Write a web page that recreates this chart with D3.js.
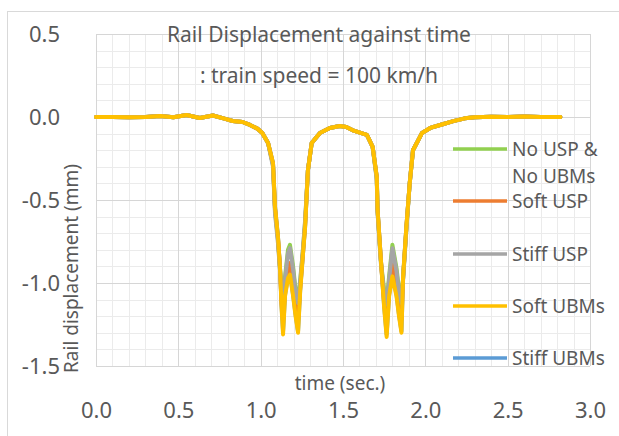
<!DOCTYPE html>
<html>
<head>
<meta charset="utf-8">
<script src="https://cdn.jsdelivr.net/npm/d3@7"></script>
<style>
  body { margin: 0; background: #fff; }
  text { font-family: "Noto Sans", "Open Sans", sans-serif; fill: #595959; }
</style>
</head>
<body>
<div id="chart"></div>
<script>
// time (sec.)
var times = [0.00,0.10,0.20,0.30,0.39,0.47,0.55,0.63,0.71,0.78,0.83,0.89,0.935,0.98,1.01,1.045,1.075,1.087,1.105,1.117,1.127,1.136,1.148,1.166,1.178,1.197,1.212,1.227,1.24,1.255,1.27,1.287,1.31,1.36,1.42,1.48,1.52,1.56,1.645,1.68,1.705,1.71,1.73,1.75,1.765,1.78,1.80,1.825,1.84,1.855,1.865,1.885,1.905,1.925,1.98,2.03,2.10,2.17,2.24,2.30,2.40,2.50,2.60,2.70,2.82];

// rail displacement (mm) per case
var noUspNoUbms = [0.000,0.000,-0.002,0.000,0.006,-0.002,0.012,-0.006,0.009,-0.010,-0.024,-0.030,-0.048,-0.070,-0.096,-0.157,-0.290,-0.56,-0.74,-0.91,-1.04,-1.10,-0.96,-0.80,-0.77,-0.90,-1.04,-1.10,-0.98,-0.82,-0.63,-0.32,-0.157,-0.096,-0.066,-0.054,-0.060,-0.080,-0.108,-0.18,-0.37,-0.57,-0.87,-1.04,-1.11,-0.96,-0.77,-0.91,-1.04,-1.10,-0.97,-0.67,-0.40,-0.20,-0.096,-0.066,-0.045,-0.025,-0.008,-0.002,0.002,0.000,0.003,0.000,0.000];
var softUsp    = [0.000,0.000,-0.002,0.000,0.006,-0.002,0.012,-0.006,0.009,-0.010,-0.024,-0.030,-0.048,-0.070,-0.096,-0.157,-0.285,-0.55,-0.73,-0.90,-1.12,-1.22,-1.04,-0.90,-0.88,-1.02,-1.14,-1.22,-1.03,-0.84,-0.65,-0.32,-0.157,-0.096,-0.066,-0.054,-0.060,-0.080,-0.108,-0.18,-0.36,-0.56,-0.86,-1.12,-1.23,-1.04,-0.89,-1.03,-1.14,-1.22,-0.97,-0.66,-0.40,-0.20,-0.096,-0.066,-0.045,-0.025,-0.008,-0.002,0.002,0.000,0.003,0.000,0.000];
var stiffUsp   = [0.000,0.000,-0.002,0.000,0.006,-0.002,0.012,-0.006,0.009,-0.010,-0.024,-0.030,-0.048,-0.070,-0.096,-0.157,-0.300,-0.58,-0.76,-0.92,-1.06,-1.12,-0.98,-0.82,-0.79,-0.92,-1.06,-1.12,-1.00,-0.82,-0.62,-0.32,-0.157,-0.096,-0.066,-0.054,-0.060,-0.080,-0.108,-0.18,-0.38,-0.58,-0.88,-1.06,-1.13,-0.98,-0.79,-0.93,-1.06,-1.12,-0.98,-0.68,-0.40,-0.20,-0.096,-0.066,-0.045,-0.025,-0.008,-0.002,0.002,0.000,0.003,0.000,0.000];
var softUbms   = [0.000,0.000,-0.002,0.000,0.006,-0.002,0.012,-0.006,0.009,-0.010,-0.024,-0.030,-0.048,-0.070,-0.096,-0.157,-0.277,-0.54,-0.72,-0.90,-1.15,-1.31,-1.08,-0.97,-0.95,-1.08,-1.20,-1.30,-1.05,-0.85,-0.66,-0.32,-0.157,-0.096,-0.066,-0.054,-0.060,-0.080,-0.108,-0.18,-0.36,-0.56,-0.86,-1.15,-1.325,-1.08,-0.96,-1.08,-1.20,-1.30,-0.96,-0.66,-0.40,-0.20,-0.096,-0.066,-0.045,-0.025,-0.008,-0.002,0.002,0.000,0.003,0.000,0.000];
var stiffUbms  = [0.000,0.000,-0.002,0.000,0.006,-0.002,0.012,-0.006,0.009,-0.010,-0.024,-0.030,-0.048,-0.070,-0.096,-0.157,-0.277,-0.54,-0.72,-0.90,-1.14,-1.29,-1.07,-0.96,-0.94,-1.07,-1.19,-1.29,-1.04,-0.85,-0.66,-0.32,-0.157,-0.096,-0.066,-0.054,-0.060,-0.080,-0.108,-0.18,-0.36,-0.56,-0.86,-1.14,-1.31,-1.07,-0.95,-1.07,-1.19,-1.29,-0.96,-0.66,-0.40,-0.20,-0.096,-0.066,-0.045,-0.025,-0.008,-0.002,0.002,0.000,0.003,0.000,0.000];

var legendNames = ["No USP &\nNo UBMs", "Soft USP", "Stiff USP", "Soft UBMs", "Stiff UBMs"];
var colors = ["#92d050", "#ed7d31", "#a5a5a5", "#ffc000", "#5b9bd5"];
var xTicks = [0, 0.5, 1, 1.5, 2, 2.5, 3];
var yTicks = [0.5, 0, -0.5, -1, -1.5];

var W = 619, H = 436;
var plot = {left: 96, right: 590, top: 34, bottom: 366};

var svg = d3.select("#chart").append("svg")
    .attr("width", W)
    .attr("height", H);

// outer chart frame
svg.append("rect")
    .attr("x", 7.5).attr("y", 11.5)
    .attr("width", 700).attr("height", 500)
    .attr("fill", "none")
    .attr("stroke", "#d9d9d9");

var x = d3.scaleLinear().domain([0, 3]).range([plot.left, plot.right]);
var y = d3.scaleLinear().domain([-1.5, 0.5]).range([plot.bottom, plot.top]);

// gridlines: minor every 0.1, major every 0.5
var minorX = d3.range(0, 31).map(function(i) { return i / 10; });
var minorY = d3.range(-15, 6).map(function(i) { return i / 10; });
var grid = svg.append("g");
grid.selectAll(".mx").data(minorX).enter().append("line")
    .attr("x1", function(d) { return Math.round(x(d)) + 0.5; })
    .attr("x2", function(d) { return Math.round(x(d)) + 0.5; })
    .attr("y1", plot.top).attr("y2", plot.bottom)
    .attr("stroke", "#ebebeb");
grid.selectAll(".my").data(minorY).enter().append("line")
    .attr("y1", function(d) { return Math.round(y(d)) + 0.5; })
    .attr("y2", function(d) { return Math.round(y(d)) + 0.5; })
    .attr("x1", plot.left).attr("x2", plot.right)
    .attr("stroke", "#ebebeb");
grid.selectAll(".Mx").data(xTicks).enter().append("line")
    .attr("x1", function(d) { return Math.round(x(d)) + 0.5; })
    .attr("x2", function(d) { return Math.round(x(d)) + 0.5; })
    .attr("y1", plot.top).attr("y2", plot.bottom)
    .attr("stroke", "#d6d6d6");
grid.selectAll(".My").data(yTicks).enter().append("line")
    .attr("y1", function(d) { return Math.round(y(d)) + 0.5; })
    .attr("y2", function(d) { return Math.round(y(d)) + 0.5; })
    .attr("x1", plot.left).attr("x2", plot.right)
    .attr("stroke", "#d6d6d6");

// axes (labels only), hyphen minus like the original
var fmt = function(d) { return d3.format(".1f")(d).replace("\u2212", "-"); };
var xAxis = svg.append("g")
    .attr("transform", "translate(0,408)")
    .call(d3.axisBottom(x).tickValues(xTicks).tickFormat(fmt).tickSize(0));
var yAxis = svg.append("g")
    .attr("transform", "translate(" + (plot.left - 36) + ",0)")
    .call(d3.axisLeft(y).tickValues(yTicks).tickFormat(fmt).tickSize(0));
[xAxis, yAxis].forEach(function(a) {
  a.select(".domain").remove();
  a.selectAll("text")
      .style("font-family", "'Noto Sans', sans-serif")
      .style("font-size", "22px")
      .attr("fill", "#595959");
});
xAxis.selectAll("text").attr("dy", "0.3em");
yAxis.selectAll("text").attr("x", 0).attr("dy", "0.35em");

// series (blue hidden underneath, yellow on top)
var series = [
  {name: "Stiff UBMs", values: stiffUbms, color: colors[4]},
  {name: "No USP", values: noUspNoUbms, color: colors[0]},
  {name: "Soft USP", values: softUsp, color: colors[1]},
  {name: "Stiff USP", values: stiffUsp, color: colors[2]},
  {name: "Soft UBMs", values: softUbms, color: colors[3]}
];

var line = d3.line()
    .x(function(d, i) { return x(times[i]); })
    .y(function(d) { return y(d); });

svg.append("g").selectAll("path")
    .data(series)
  .enter().append("path")
    .attr("d", function(s) { return line(s.values); })
    .attr("fill", "none")
    .attr("stroke", function(s) { return s.color; })
    .attr("stroke-width", 4)
    .attr("stroke-linejoin", "round")
    .attr("stroke-linecap", "round");

// title
svg.append("text")
    .attr("x", 319).attr("y", 42)
    .attr("text-anchor", "middle")
    .style("font-size", "21px")
    .text("Rail Displacement against time");
svg.append("text")
    .attr("x", 319).attr("y", 83)
    .attr("text-anchor", "middle")
    .style("font-size", "21px")
    .text(": train speed = 100 km/h");

// axis titles
svg.append("text")
    .attr("x", 340).attr("y", 390)
    .attr("text-anchor", "middle")
    .style("font-size", "19px")
    .text("time (sec.)");
svg.append("text")
    .attr("transform", "translate(78,373) rotate(-90)")
    .attr("text-anchor", "start")
    .style("font-size", "19px")
    .text("Rail displacement (mm)");

// legend
var legendY = [149, 201, 254, 306, 358];
var legend = svg.append("g");
legendNames.forEach(function(name, i) {
  legend.append("line")
      .attr("x1", 453).attr("x2", 507)
      .attr("y1", legendY[i]).attr("y2", legendY[i])
      .attr("stroke", colors[i])
      .attr("stroke-width", 3.5);
  var t = legend.append("text")
      .attr("x", 512).attr("y", legendY[i] + 7)
      .style("font-size", "19px");
  name.split("\n").forEach(function(part, j) {
    t.append("tspan")
        .attr("x", 512)
        .attr("dy", j === 0 ? 0 : 27)
        .text(part);
  });
});
</script>
</body>
</html>
